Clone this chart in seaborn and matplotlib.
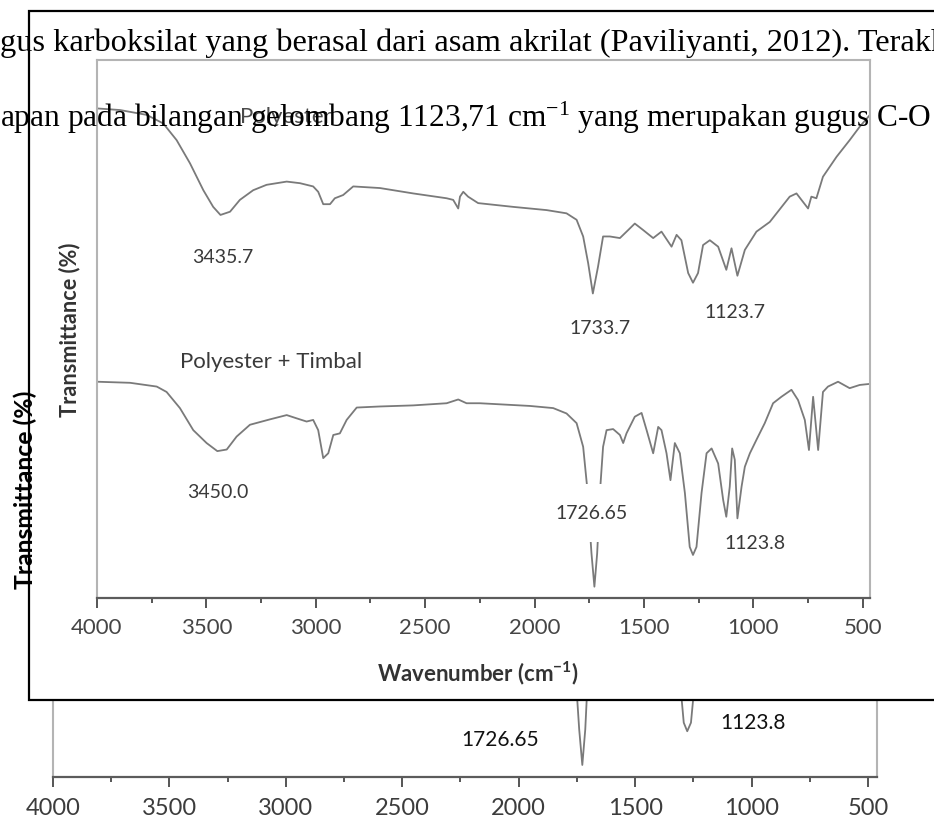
import matplotlib
matplotlib.use("Agg")
import matplotlib.pyplot as plt
from matplotlib.patches import Rectangle
import seaborn as sns

# ---- FTIR spectra: wavenumber (cm-1) and transmittance (arbitrary %) ----
wn_polyester = [4000, 3895, 3773, 3697, 3636, 3575, 3514, 3469, 3435.7, 3392, 3347, 3286,
                3225, 3133, 3072, 3012, 2989, 2966, 2935, 2913, 2875, 2829, 2707, 2555,
                2402, 2372, 2349, 2341, 2326, 2304, 2258, 2098, 1945, 1854, 1808, 1778,
                1755, 1733.7, 1710, 1687, 1656, 1610, 1572, 1542, 1504, 1458, 1420, 1374,
                1351, 1329, 1298, 1276, 1253, 1230, 1199, 1161, 1123.7, 1100, 1073, 1039,
                986, 925, 834, 803, 750, 735, 712, 682, 620, 560, 514, 467]
t_polyester = [91.0, 90.7, 89.8, 88.2, 85.1, 80.8, 75.8, 72.7, 71.2, 71.8, 74.0, 75.8,
               76.8, 77.4, 77.1, 76.5, 75.5, 73.2, 73.2, 74.3, 74.9, 76.5, 76.2, 75.2,
               74.3, 74.0, 72.4, 74.6, 75.5, 74.6, 73.4, 72.7, 72.1, 71.5, 70.3, 67.2,
               62.2, 56.6, 61.6, 67.2, 67.2, 66.9, 68.4, 69.6, 68.4, 66.9, 68.1, 65.3,
               67.5, 66.5, 60.4, 58.6, 60.4, 65.6, 66.5, 65.3, 61.0, 65.0, 59.9, 64.7,
               68.1, 69.9, 74.6, 75.2, 72.4, 74.6, 74.3, 78.3, 82.0, 85.1, 87.6, 89.8]

wn_timbal = [4000, 3849, 3727, 3682, 3621, 3560, 3499, 3450.0, 3407, 3362, 3301, 3210,
             3133, 3088, 3042, 3012, 2989, 2966, 2943, 2920, 2890, 2859, 2813, 2707,
             2555, 2402, 2349, 2311, 2250, 2022, 1915, 1854, 1808, 1778, 1760, 1740,
             1726.65, 1714, 1699, 1687, 1671, 1641, 1610, 1595, 1580, 1542, 1511, 1488,
             1458, 1435, 1420, 1397, 1379, 1359, 1336, 1313, 1291, 1276, 1260, 1237,
             1214, 1191, 1161, 1138, 1123.8, 1108, 1097, 1085, 1073, 1054, 1039, 1016,
             986, 948, 910, 872, 826, 796, 765, 746, 727, 704, 682, 659, 613, 560, 514, 467]
t_timbal = [40.2, 40.0, 39.3, 38.3, 35.3, 31.2, 28.8, 27.3, 27.6, 30.0, 32.2, 33.2,
            34.0, 33.4, 32.8, 33.1, 31.2, 26.0, 26.9, 30.3, 30.6, 33.1, 35.4, 35.6,
            35.8, 36.2, 36.9, 36.2, 36.2, 35.7, 35.3, 34.3, 32.5, 28.1, 20.7, 8.3,
            2.1, 8.3, 21.0, 28.1, 31.2, 31.4, 30.3, 28.8, 30.6, 33.7, 34.4, 31.2,
            26.9, 31.8, 31.2, 26.9, 21.9, 28.8, 26.9, 19.5, 9.5, 8.0, 9.5, 19.5,
            26.9, 27.8, 25.0, 18.2, 15.1, 20.7, 27.8, 25.7, 14.8, 20.7, 24.4, 26.9,
            29.4, 32.5, 36.2, 37.4, 38.7, 36.8, 33.1, 27.5, 37.4, 27.5, 38.3, 39.3,
            40.2, 39.0, 39.6, 39.8]

peaks_polyester = [3435.7, 1733.7, 1123.7]
peaks_timbal = [3450.0, 1726.65, 1123.8]
series_names = ["Polyester", "Polyester + Timbal"]
major_ticks = [4000, 3500, 3000, 2500, 2000, 1500, 1000, 500]
minor_ticks = [3750, 3250, 2750, 2250, 1750, 1250, 750]

doc_line1 = "gus karboksilat yang berasal dari asam akrilat (Paviliyanti, 2012). Terakhir"
doc_line2 = "apan pada bilangan gelombang 1123,71 cm$^{-1}$ yang merupakan gugus C-O"

sns.set_theme(style="white")
plt.rcParams["font.family"] = ["Lato", "DejaVu Sans"]
plt.rcParams["mathtext.default"] = "regular"

W, H = 934, 821
fig = plt.figure(figsize=(W / 100, H / 100), dpi=100)
fig.patch.set_facecolor("white")


def px_rect(left, top, right, bottom):
    return [left / W, 1 - bottom / H, (right - left) / W, (bottom - top) / H]


def style_axes(ax, right_lim, tick_size, tick_color, pad):
    ax.set_xlim(4000, right_lim)
    ax.set_ylim(0, 100)
    ax.set_xticks(major_ticks)
    ax.set_xticks(minor_ticks, minor=True)
    ax.set_yticks([])
    ax.set_xlabel("")
    ax.set_ylabel("")
    ax.set_facecolor("white")
    for side in ("left", "top", "right"):
        ax.spines[side].set_color("#b4b4b4")
        ax.spines[side].set_linewidth(1.5)
    ax.spines["bottom"].set_color("#5c5c5c")
    ax.spines["bottom"].set_linewidth(1.6)
    ax.tick_params(axis="x", which="major", bottom=True, direction="out", length=7,
                   width=1.4, color="#555555", labelsize=tick_size,
                   labelcolor=tick_color, pad=pad)
    ax.tick_params(axis="x", which="minor", bottom=True, direction="out", length=3.5,
                   width=1.4, color="#555555")


line_kw = dict(sort=False, estimator=None, color="#7a7a7a", linewidth=1.3, legend=False)

# ---- larger figure on the page underneath ----
ax_bg = fig.add_axes(px_rect(53, 205, 877, 777), zorder=0)
sns.lineplot(x=wn_polyester, y=t_polyester, ax=ax_bg, **line_kw)
sns.lineplot(x=wn_timbal, y=t_timbal, ax=ax_bg, **line_kw)
style_axes(ax_bg, 461, 17, "#3c3c3c", 8)
bg_label_offsets = {1726.65: (-59, 18), 1123.8: (22, -23)}
for wn, t in zip(wn_timbal, t_timbal):
    if wn in bg_label_offsets:
        ax_bg.annotate(f"{wn:g}", (wn, t), xytext=bg_label_offsets[wn],
                       textcoords="offset points", ha="center", va="center",
                       fontsize=15, color="#111111")

# ---- framed copy on top ----
fig.add_artist(Rectangle((29 / W, 1 - 700 / H), 2.0, (700 - 11) / H,
                         transform=fig.transFigure, facecolor="white",
                         edgecolor="black", linewidth=1.6, zorder=1))

ax_in = fig.add_axes(px_rect(97, 60, 870, 598), zorder=2)
sns.lineplot(x=wn_polyester, y=t_polyester, ax=ax_in, **line_kw)
sns.lineplot(x=wn_timbal, y=t_timbal, ax=ax_in, **line_kw)
style_axes(ax_in, 467, 16, "#454545", 7.5)

label_kw = dict(textcoords="offset points", ha="center", va="center",
                fontsize=14, color="#3a3a3a")
poly_offsets = {3435.7: (2, -31), 1733.7: (5, -25), 1123.7: (6, -31)}
for wn, t in zip(wn_polyester, t_polyester):
    if wn in peaks_polyester:
        ax_in.annotate(f"{wn:g}", (wn, t), xytext=poly_offsets[wn], **label_kw)
timbal_offsets = {3450.0: (0, -29.5), 1726.65: (-2, 53), 1123.8: (20.5, -19.5)}
for wn, t in zip(wn_timbal, t_timbal):
    if wn in peaks_timbal:
        text = f"{wn:.1f}" if wn == 3450.0 else f"{wn:g}"
        kw = dict(label_kw)
        if wn == 1726.65:
            kw["bbox"] = dict(facecolor="white", edgecolor="none", pad=15)
        ax_in.annotate(text, (wn, t), xytext=timbal_offsets[wn], **kw)

ax_in.text(3347, 89.4, series_names[0], ha="left", va="center", fontsize=16,
           color="#4a4a4a")
ax_in.text(3621, 43.9, series_names[1], ha="left", va="center", fontsize=16,
           color="#3a3a3a")

fig.text(70 / W, 1 - 330 / H, "Transmittance (%)", rotation=90, ha="center",
         va="center", fontsize=15.6, fontweight="bold", color="#333333", zorder=3)
fig.text(478 / W, 1 - 673 / H, "Wavenumber (cm$^{-1}$)", ha="center", va="center",
         fontsize=16, fontweight="bold", color="#333333", zorder=3)

# ---- page text running over the figure ----
fig.text(25 / W, 1 - 490 / H, "Transmittance (%)", rotation=90, ha="center",
         va="center", fontsize=17.8, fontweight="bold", color="black", zorder=6)
serif = ["Liberation Serif", "DejaVu Serif"]
fig.text(0, 1 - 51 / H, doc_line1, ha="left", va="baseline", fontsize=23.3,
         family=serif, color="black", zorder=6)
fig.text(0, 1 - 127 / H, doc_line2, ha="left", va="baseline", fontsize=22.55,
         family=serif, color="black", zorder=6)

fig.savefig("out.png", dpi=100, facecolor="white")
